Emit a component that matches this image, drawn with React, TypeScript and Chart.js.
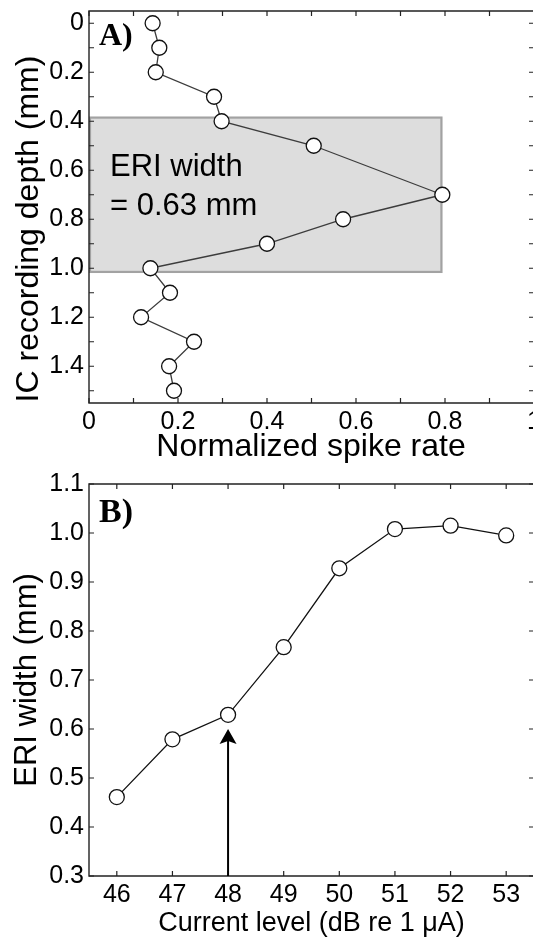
import { useEffect, useRef } from "react";
import { Chart, registerables } from "chart.js";

Chart.register(...registerables);

// ---------- Panel A data ----------
const DEPTHS_MM = [0, 0.1, 0.2, 0.3, 0.4, 0.5, 0.7, 0.8, 0.9, 1.0, 1.1, 1.2, 1.3, 1.4, 1.5];
const SPIKE_RATES = [0.143, 0.158, 0.15, 0.281, 0.298, 0.505, 0.794, 0.571, 0.4, 0.138, 0.182, 0.117, 0.236, 0.18, 0.191];
const ERI_BOX_RATE = [0, 0.792];
const ERI_BOX_DEPTH = [0.385, 1.015];
const ERI_TEXT = ["ERI width", "= 0.63 mm"];
const A_X_LABEL_VALUES = [0, 0.2, 0.4, 0.6, 0.8, 1];
const A_X_LABELS = ["0", "0.2", "0.4", "0.6", "0.8", "1"];
const A_Y_LABEL_VALUES = [0, 0.2, 0.4, 0.6, 0.8, 1.0, 1.2, 1.4];
const A_Y_LABELS = ["0", "0.2", "0.4", "0.6", "0.8", "1.0", "1.2", "1.4"];
const A_X_MINOR = [0, 0.1, 0.2, 0.3, 0.4, 0.5, 0.6, 0.7, 0.8, 0.9, 1.0];
const A_Y_MINOR = [0, 0.1, 0.2, 0.3, 0.4, 0.5, 0.6, 0.7, 0.8, 0.9, 1.0, 1.1, 1.2, 1.3, 1.4, 1.5];
const A_X_TITLE = "Normalized spike rate";
const A_Y_TITLE = "IC recording depth (mm)";
const A_PANEL = "A)";

// ---------- Panel B data ----------
const CURRENT_LEVELS = [46, 47, 48, 49, 50, 51, 52, 53];
const ERI_WIDTHS = [0.461, 0.579, 0.629, 0.767, 0.928, 1.008, 1.015, 0.995];
const ARROW_LEVEL = 48;
const ARROW_FROM = 0.3;
const ARROW_TO = 0.6;
const B_X_LABEL_VALUES = [46, 47, 48, 49, 50, 51, 52, 53];
const B_X_LABELS = ["46", "47", "48", "49", "50", "51", "52", "53"];
const B_Y_LABEL_VALUES = [0.3, 0.4, 0.5, 0.6, 0.7, 0.8, 0.9, 1.0, 1.1];
const B_Y_LABELS = ["0.3", "0.4", "0.5", "0.6", "0.7", "0.8", "0.9", "1.0", "1.1"];
const B_X_TITLE = "Current level (dB re 1 \u03bcA)";
const B_Y_TITLE = "ERI width (mm)";
const B_PANEL = "B)";

const SANS = "'Liberation Sans', Arial, Helvetica, sans-serif";
const SERIF = "'Liberation Serif', 'Times New Roman', serif";
const TICK_FONT = { family: SANS, size: 25 };

function labelFor(values: number[], labels: string[]) {
  return (v: any) => {
    const i = values.findIndex((x) => Math.abs(x - Number(v)) < 1e-9);
    return i >= 0 ? labels[i] : "";
  };
}

function drawFrameAndTicks(chart: any, xMinor: number[], yMinor: number[]) {
  const ctx = chart.ctx;
  const { left, right, top, bottom } = chart.chartArea;
  const xs = chart.scales.x;
  const ys = chart.scales.y;
  const L = 5;
  ctx.save();
  ctx.strokeStyle = "#222";
  ctx.lineWidth = 1.4;
  ctx.beginPath();
  ctx.moveTo(left, top);
  ctx.lineTo(right, top);
  ctx.lineTo(right, bottom);
  ctx.lineTo(left, bottom);
  ctx.closePath();
  ctx.stroke();
  ctx.lineWidth = 1.2;
  ctx.beginPath();
  xMinor.forEach((v) => {
    const px = xs.getPixelForValue(v);
    ctx.moveTo(px, bottom);
    ctx.lineTo(px, bottom - L);
    ctx.moveTo(px, top);
    ctx.lineTo(px, top + L);
  });
  yMinor.forEach((v) => {
    const py = ys.getPixelForValue(v);
    ctx.moveTo(left, py);
    ctx.lineTo(left + L, py);
    ctx.moveTo(right, py);
    ctx.lineTo(right - L, py);
  });
  ctx.stroke();
  ctx.restore();
}

function drawRotated(ctx: any, text: string, x: number, y: number, font: string) {
  ctx.save();
  ctx.translate(x, y);
  ctx.rotate(-Math.PI / 2);
  ctx.font = font;
  ctx.fillStyle = "#000";
  ctx.textAlign = "center";
  ctx.textBaseline = "alphabetic";
  ctx.fillText(text, 0, 0);
  ctx.restore();
}

function drawText(ctx: any, text: string, x: number, y: number, font: string, align = "left") {
  ctx.save();
  ctx.font = font;
  ctx.fillStyle = "#000";
  ctx.textAlign = align;
  ctx.textBaseline = "alphabetic";
  ctx.fillText(text, x, y);
  ctx.restore();
}

const panelAPlugin = {
  id: "panelA",
  beforeDatasetsDraw(chart: any) {
    const ctx = chart.ctx;
    const xs = chart.scales.x;
    const ys = chart.scales.y;
    const x0 = xs.getPixelForValue(ERI_BOX_RATE[0]);
    const x1 = xs.getPixelForValue(ERI_BOX_RATE[1]);
    const y0 = ys.getPixelForValue(ERI_BOX_DEPTH[0]);
    const y1 = ys.getPixelForValue(ERI_BOX_DEPTH[1]);
    ctx.save();
    ctx.fillStyle = "#dddddd";
    ctx.fillRect(x0, y0, x1 - x0, y1 - y0);
    ctx.strokeStyle = "#a2a2a2";
    ctx.lineWidth = 2.2;
    ctx.strokeRect(x0 + 1, y0, x1 - x0 - 1, y1 - y0);
    ctx.restore();
    const f = `31px ${SANS}`;
    drawText(ctx, ERI_TEXT[0], 110, 176, f);
    drawText(ctx, ERI_TEXT[1], 110, 214.5, f);
  },
  afterDatasetsDraw(chart: any) {
    drawFrameAndTicks(chart, A_X_MINOR, A_Y_MINOR);
  },
  afterDraw(chart: any) {
    const ctx = chart.ctx;
    drawText(ctx, A_PANEL, 99, 45, `bold 32px ${SERIF}`);
    drawRotated(ctx, A_Y_TITLE, 37.5, 229, `32px ${SANS}`);
    drawText(ctx, A_X_TITLE, 311, 456, `32px ${SANS}`, "center");
  },
};

const B_TOP = 470;

const panelBPlugin = {
  id: "panelB",
  afterDatasetsDraw(chart: any) {
    drawFrameAndTicks(chart, B_X_LABEL_VALUES, B_Y_LABEL_VALUES);
    const ctx = chart.ctx;
    const xs = chart.scales.x;
    const ys = chart.scales.y;
    const ax = xs.getPixelForValue(ARROW_LEVEL);
    const yBase = ys.getPixelForValue(ARROW_FROM);
    const yTip = ys.getPixelForValue(ARROW_TO);
    const headLen = 15;
    const headHalf = 8.5;
    ctx.save();
    ctx.strokeStyle = "#000";
    ctx.lineWidth = 2;
    ctx.beginPath();
    ctx.moveTo(ax, yBase);
    ctx.lineTo(ax, yTip + headLen - 3);
    ctx.stroke();
    ctx.fillStyle = "#000";
    ctx.beginPath();
    ctx.moveTo(ax, yTip);
    ctx.lineTo(ax + headHalf, yTip + headLen);
    ctx.lineTo(ax, yTip + headLen - 3);
    ctx.lineTo(ax - headHalf, yTip + headLen);
    ctx.closePath();
    ctx.fill();
    ctx.restore();
  },
  afterDraw(chart: any) {
    const ctx = chart.ctx;
    drawText(ctx, B_PANEL, 99, 521.5 - B_TOP, `bold 34px ${SERIF}`);
    drawRotated(ctx, B_Y_TITLE, 35.5, 680 - B_TOP, `31px ${SANS}`);
    drawText(ctx, B_X_TITLE, 311.5, 930.5 - B_TOP, `27px ${SANS}`, "center");
  },
};

function makeScales(
  xMin: number, xMax: number, yMin: number, yMax: number, reverse: boolean,
  xVals: number[], xLabels: string[], yVals: number[], yLabels: string[], xHeight: number
) {
  return {
    x: {
      type: "linear",
      min: xMin,
      max: xMax,
      grid: { display: false, drawTicks: false },
      border: { display: false },
      ticks: { font: TICK_FONT, color: "#000", padding: 4, autoSkip: false, maxRotation: 0, callback: labelFor(xVals, xLabels) },
      afterBuildTicks: (s: any) => { s.ticks = xVals.map((value) => ({ value })); },
      afterFit: (s: any) => { s.height = xHeight; s.paddingLeft = 0; s.paddingRight = 0; },
    },
    y: {
      type: "linear",
      min: yMin,
      max: yMax,
      reverse,
      grid: { display: false, drawTicks: false },
      border: { display: false },
      ticks: { font: TICK_FONT, color: "#000", padding: 5, autoSkip: false, callback: labelFor(yVals, yLabels) },
      afterBuildTicks: (s: any) => { s.ticks = yVals.map((value) => ({ value })); },
      afterFit: (s: any) => { s.width = 89; s.paddingTop = 0; s.paddingBottom = 0; },
    },
  };
}

export default function App() {
  const refA = useRef<HTMLCanvasElement>(null);
  const refB = useRef<HTMLCanvasElement>(null);

  useEffect(() => {
    const common = {
      animation: false,
      responsive: false,
      events: [],
      plugins: { legend: { display: false }, tooltip: { enabled: false } },
    };
    const pointStyle = {
      pointRadius: 7.5,
      pointHoverRadius: 7.5,
      pointBackgroundColor: "#ffffff",
      pointBorderColor: "#111111",
      pointBorderWidth: 1.3,
    };
    const chartA = new Chart(refA.current as HTMLCanvasElement, {
      type: "scatter",
      data: {
        datasets: [
          {
            data: DEPTHS_MM.map((d, i) => ({ x: SPIKE_RATES[i], y: d })),
            showLine: true,
            borderColor: "#3c3c3c",
            borderWidth: 1.3,
            ...pointStyle,
          },
        ],
      },
      options: {
        ...common,
        layout: { autoPadding: false, padding: { top: 11, right: 2, left: 0, bottom: 0 } },
        scales: makeScales(0, 1, -0.05, 1.55, true, A_X_LABEL_VALUES, A_X_LABELS, A_Y_LABEL_VALUES, A_Y_LABELS, 67),
      } as any,
      plugins: [panelAPlugin],
    } as any);

    const chartB = new Chart(refB.current as HTMLCanvasElement, {
      type: "scatter",
      data: {
        datasets: [
          {
            data: CURRENT_LEVELS.map((c, i) => ({ x: c, y: ERI_WIDTHS[i] })),
            showLine: true,
            borderColor: "#111111",
            borderWidth: 1.3,
            ...pointStyle,
          },
        ],
      },
      options: {
        ...common,
        layout: { autoPadding: false, padding: { top: 14, right: 2, left: 0, bottom: 0 } },
        scales: makeScales(45.5, 53.5, 0.3, 1.1, false, B_X_LABEL_VALUES, B_X_LABELS, B_Y_LABEL_VALUES, B_Y_LABELS, 62),
      } as any,
      plugins: [panelBPlugin],
    } as any);

    return () => {
      chartA.destroy();
      chartB.destroy();
    };
  }, []);

  return (
    <div style={{ position: "absolute", left: 0, top: 0, width: 533, height: 938, overflow: "hidden", background: "#fff" }}>
      <canvas ref={refA} width={536} height={470} style={{ position: "absolute", left: 0, top: 0, display: "block" }} />
      <canvas ref={refB} width={536} height={468} style={{ position: "absolute", left: 0, top: B_TOP, display: "block" }} />
    </div>
  );
}
